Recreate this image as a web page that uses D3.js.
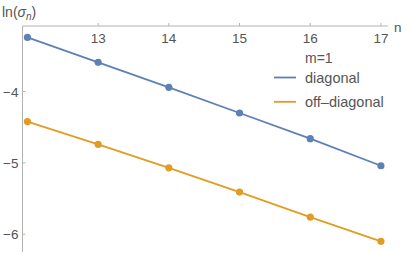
<!DOCTYPE html>
<html>
<head>
<meta charset="utf-8">
<script src="https://cdn.jsdelivr.net/npm/d3@7"></script>
<style>
  body { margin: 0; background: #fff; }
  svg text { font-family: "Liberation Sans", Arial, sans-serif; }
</style>
</head>
<body>
<div id="chart"></div>
<script>
// data
const nValues = [12, 13, 14, 15, 16, 17];
const diagonal = [-3.24, -3.59, -3.94, -4.30, -4.66, -5.04];
const offDiagonal = [-4.42, -4.74, -5.07, -5.41, -5.76, -6.10];
const xTicks = [13, 14, 15, 16, 17];
const yTicks = [-4, -5, -6];
const seriesNames = ["diagonal", "off\u2013diagonal"];
const colors = ["#5e81b5", "#e19c24"];

const width = 407, height = 253;

const x = d3.scaleLinear().domain([11.93, 17.1]).range([22.5, 388]);
const y = d3.scaleLinear().domain([-3.08, -6.25]).range([26, 252]);

const svg = d3.select("#chart").append("svg")
  .attr("width", width).attr("height", height);

// axes (Mathematica style: x axis crosses at top, ticks on positive side)
const axisColor = "#b3b3b3";
const labelColor = "#555";

svg.append("line")
  .attr("x1", x(11.93)).attr("x2", x(17.1))
  .attr("y1", y(-3.08)).attr("y2", y(-3.08))
  .attr("stroke", axisColor).attr("stroke-width", 1);

svg.append("line")
  .attr("x1", x(11.93)).attr("x2", x(11.93))
  .attr("y1", y(-3.08)).attr("y2", y(-6.25))
  .attr("stroke", axisColor).attr("stroke-width", 1);

svg.selectAll("line.xt").data(xTicks).join("line")
  .attr("class", "xt")
  .attr("x1", d => x(d)).attr("x2", d => x(d))
  .attr("y1", y(-3.08)).attr("y2", y(-3.08) - 3)
  .attr("stroke", axisColor);

svg.selectAll("text.xl").data(xTicks).join("text")
  .attr("class", "xl")
  .attr("x", d => x(d)).attr("y", y(-3.08) + 17)
  .attr("text-anchor", "middle")
  .attr("font-size", 13.5)
  .attr("fill", labelColor)
  .text(d => d);

svg.selectAll("line.yt").data(yTicks).join("line")
  .attr("class", "yt")
  .attr("x1", x(11.93)).attr("x2", x(11.93) + 3)
  .attr("y1", d => y(d)).attr("y2", d => y(d))
  .attr("stroke", axisColor);

svg.selectAll("text.yl").data(yTicks).join("text")
  .attr("class", "yl")
  .attr("x", x(11.93) - 4).attr("y", d => y(d) + 5)
  .attr("text-anchor", "end")
  .attr("font-size", 13.5)
  .attr("fill", labelColor)
  .text(d => "\u2212" + Math.abs(d));

// axis labels
const yLab = svg.append("text")
  .attr("x", 2).attr("y", 17)
  .attr("font-size", 14)
  .attr("fill", labelColor);
yLab.append("tspan").text("ln(");
yLab.append("tspan").attr("font-style", "italic").text("\u03c3");
yLab.append("tspan").attr("font-style", "italic").attr("font-size", 10).attr("dy", 3).text("n");
yLab.append("tspan").attr("dy", -3).text(")");

svg.append("text")
  .attr("x", 394).attr("y", 32)
  .attr("font-size", 13.5)
  .attr("fill", labelColor)
  .text("n");

// series
const line = d3.line().x((d, i) => x(nValues[i])).y(d => y(d));
[diagonal, offDiagonal].forEach((vals, k) => {
  svg.append("path")
    .attr("d", line(vals))
    .attr("fill", "none")
    .attr("stroke", colors[k])
    .attr("stroke-width", 1.8);
  svg.selectAll("circle.s" + k).data(vals).join("circle")
    .attr("class", "s" + k)
    .attr("cx", (d, i) => x(nValues[i]))
    .attr("cy", d => y(d))
    .attr("r", 3.6)
    .attr("fill", colors[k]);
});

// legend
svg.append("text")
  .attr("x", 305).attr("y", 62.5)
  .attr("font-size", 14)
  .attr("fill", labelColor)
  .text("m=1");

seriesNames.forEach((name, k) => {
  const ly = 77.5 + k * 24.3;
  svg.append("line")
    .attr("x1", 274).attr("x2", 296)
    .attr("y1", ly).attr("y2", ly)
    .attr("stroke", colors[k]).attr("stroke-width", 1.8);
  svg.append("text")
    .attr("x", 305).attr("y", ly + 5)
    .attr("font-size", 14.5)
    .attr("fill", labelColor)
    .text(name);
});
</script>
</body>
</html>
